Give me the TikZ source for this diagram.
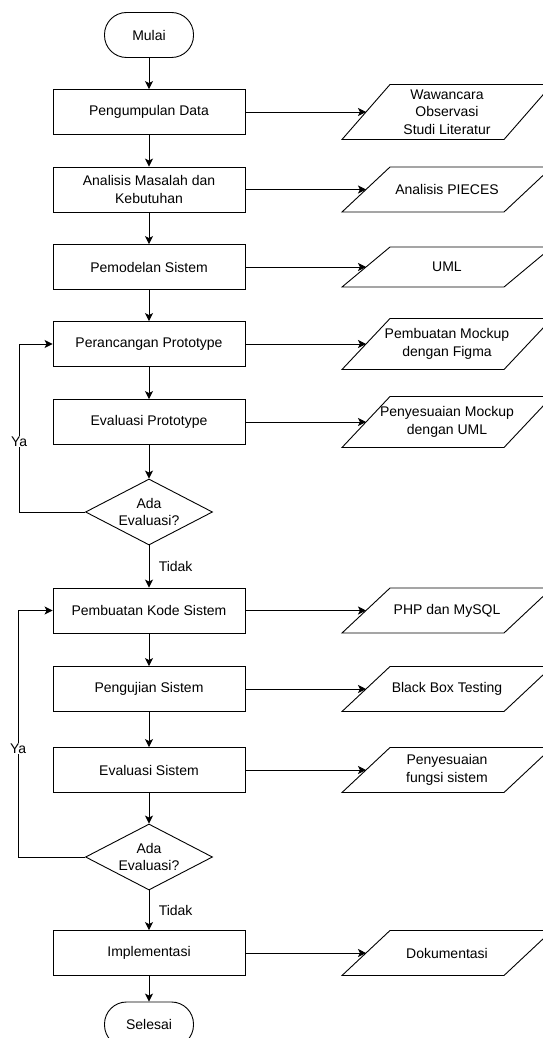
\documentclass[tikz,border=0pt]{standalone}
\usepackage{fontspec}
\setmainfont{Liberation Sans}
\usetikzlibrary{shapes,shapes.geometric,arrows.meta,positioning}
\tikzset{proses/.style={draw, rectangle, minimum width=192pt, minimum height=45pt, align=center, inner sep=2pt}}
\tikzset{io/.style={rectangle, minimum width=162pt, minimum height=45pt, align=center, inner sep=1pt, outer sep=0pt}}
\tikzset{keputusan/.style={draw, diamond, aspect=1.9, minimum width=127pt, minimum height=66pt, inner sep=0pt, align=center}}
\tikzstyle{terminal}=[draw, rectangle, rounded corners=22pt, minimum width=89pt, minimum height=45pt]

\begin{document}
\begin{tikzpicture}[x=1pt, y=1pt, on grid, >={Stealth[length=8pt,width=8pt,inset=2pt]}, line width=0.9pt, font=\fontsize{14}{17.5}\selectfont]
\useasboundingbox (0,0) rectangle (542,-1038);
\node[terminal] (T0) at (149,-35) {Mulai};
\node[proses][below=77pt of T0] (P1) {Pengumpulan Data};
\node[proses][below=77.5pt of P1] (P2) {Analisis Masalah dan\\Kebutuhan};
\node[proses][below=77.5pt of P2] (P3) {Pemodelan Sistem};
\node[proses][below=77pt of P3] (P4) {Perancangan Prototype};
\node[proses][below=78pt of P4] (P5) {Evaluasi Prototype};
\node[keputusan][below=90pt of P5] (D1) {Ada\\Evaluasi?};
\node[proses][below=98.5pt of D1] (P6) {Pembuatan Kode Sistem};
\node[proses][below=78.5pt of P6] (P7) {Pengujian Sistem};
\node[proses][below=81pt of P7] (P8) {Evaluasi Sistem};
\node[keputusan][below=87pt of P8] (D2) {Ada\\Evaluasi?};
\node[proses][below=96pt of D2] (P9) {Implementasi};
\node[terminal][below=71.5pt of P9] (T1) {Selesai};

\node[io, minimum height=55pt][right=298pt of P1] (O1) {Wawancara\\Observasi\\Studi Literatur};
\node[io][right=298pt of P2] (O2) {Analisis PIECES};
\node[io, minimum height=40pt][right=298pt of P3] (O3) {UML};
\node[io, minimum height=51pt][right=298pt of P4] (O4) {Pembuatan Mockup\\dengan Figma};
\node[io, minimum height=51pt][right=298pt of P5] (O5) {Penyesuaian Mockup\\dengan UML};
\node[io][right=298pt of P6] (O6) {PHP dan MySQL};
\node[io][right=298pt of P7] (O7) {Black Box Testing};
\node[io][right=298pt of P8] (O8) {Penyesuaian\\fungsi sistem};
\node[io][right=298pt of P9] (O9) {Dokumentasi};
% jajaran genjang untuk data masukan/keluaran
\foreach \n in {O1,O2,O3,O4,O5,O6,O7,O8,O9}
	\draw ([xshift=-24pt]\n.south west) -- ([xshift=24pt]\n.north west) -- ([xshift=24pt]\n.north east) -- ([xshift=-24pt]\n.south east) -- cycle;

\path[->] (T0) edge (P1)
	(P1) edge (P2)
	(P2) edge (P3)
	(P3) edge (P4)
	(P4) edge (P5)
	(P5) edge (D1)
	(D1) edge node[right, xshift=6pt] {Tidak} (P6)
	(P6) edge (P7)
	(P7) edge (P8)
	(P8) edge (D2)
	(D2) edge node[right, xshift=6pt] {Tidak} (P9)
	(P9) edge (T1);
\path[->] (P1) edge (O1)
	(P2) edge (O2)
	(P3) edge (O3)
	(P4) edge (O4)
	(P5) edge (O5)
	(P6) edge (O6)
	(P7) edge (O7)
	(P8) edge (O8)
	(P9) edge (O9);
\draw[->] (D1.west) -- ++(-66,0) |- node[pos=0.21, fill=white, inner sep=1pt] {Ya} (P4.west);
\draw[->] (D2.west) -- ++(-67,0) |- node[pos=0.22, fill=white, inner sep=1pt] {Ya} (P6.west);
\end{tikzpicture}
\end{document}
